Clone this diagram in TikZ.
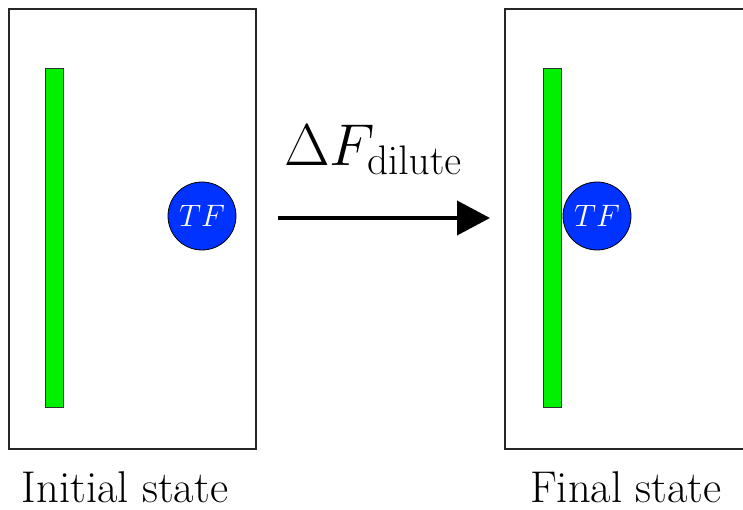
\RequirePackage{fix-cm}
\documentclass[tikz,border=0pt]{standalone}
\usetikzlibrary{arrows.meta}
\definecolor{tfblue}{RGB}{0,51,255}
\definecolor{bargreen}{RGB}{0,240,0}
\begin{document}
\begin{tikzpicture}[x=1pt,y=-1pt,
  statebox/.style={draw=black!85,line width=1.4pt,fill=white},
  bar/.style={draw=black!80,line width=0.8pt,fill=bargreen},
  tf/.style={circle,draw=black,line width=0.8pt,fill=tfblue,minimum size=68pt,inner sep=0pt,text=white,font=\fontsize{31}{36}\selectfont},
  caption/.style={font=\fontsize{44.5}{50}\selectfont,anchor=base,inner sep=0pt,text depth=0pt}]
\useasboundingbox (0,0) rectangle (743,510);
\clip (0,0) rectangle (743,510);
\fill[white] (0,0) rectangle (743,510);
% left state
\draw[statebox] (9,9) rectangle (256,449);
\draw[bar] (45,68) rectangle (63,407);
\node[tf] (tfL) at (202,216) {$TF$};
\node[caption] (capL) at (125,502) {Initial state};
% right state
\draw[statebox] (505,9) rectangle (760,449);
\draw[bar] (543,68) rectangle (561,407);
\node[tf] (tfR) at (597,216) {$TF$};
\node[caption] (capR) at (626,502) {Final state};
% arrow
\coordinate (aS) at (278,218);
\coordinate (aE) at (490,218);
\draw[line width=4pt,-{Triangle[length=33pt,width=34pt]}] (aS) -- (aE);
\node[font=\fontsize{59}{66}\selectfont,anchor=base] (lab) at (373,166) {$\Delta F_{\mathrm{dilute}}$};
\end{tikzpicture}
\end{document}
